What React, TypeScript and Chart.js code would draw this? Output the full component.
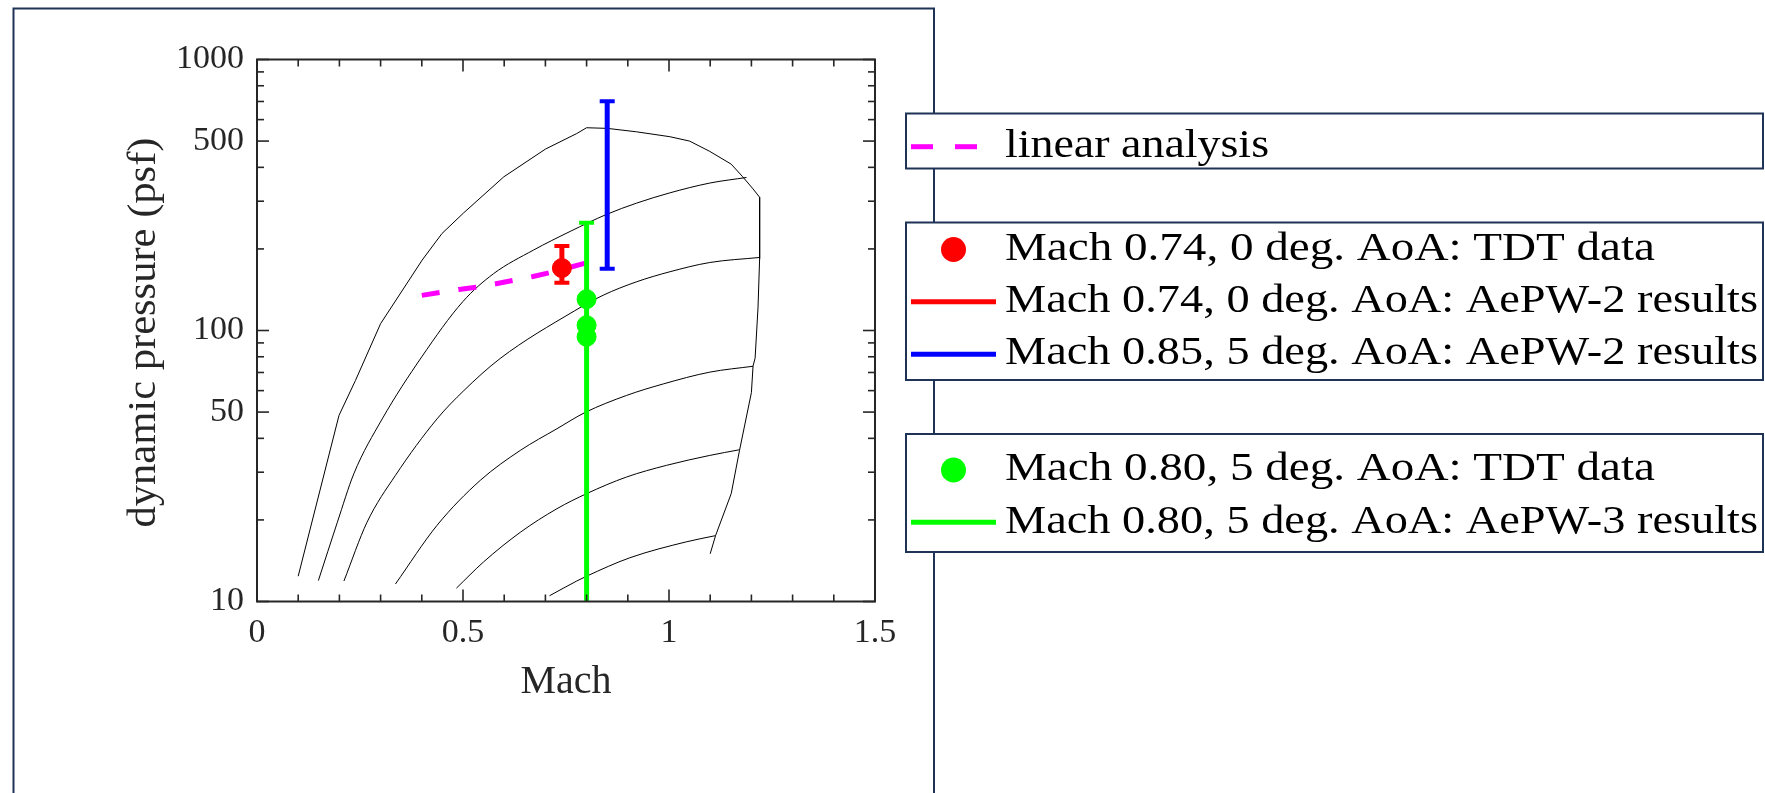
import React, { useEffect, useRef } from "react";
import { Chart, registerables } from "chart.js";

Chart.register(...registerables);

// ---- Data ----
// TDT operating envelope boundary
const envelopeMach = [0.10, 0.199, 0.239, 0.300, 0.401, 0.449, 0.502, 0.599, 0.700, 0.776, 0.800, 0.850, 0.921, 1.002, 1.050, 1.099, 1.151, 1.179, 1.204, 1.220, 1.220, 1.216, 1.209, 1.204, 1.200, 1.171, 1.151, 1.113, 1.100];
const envelopeQ = [12.4, 48.6, 65.4, 106, 182, 228, 272, 369, 467, 533, 560, 557, 541, 519, 500, 458, 411, 369, 333, 310, 184, 121, 79, 74, 59, 36, 25, 17.5, 15.0];

// Interior constant-condition curves
const curveAMach = [0.149, 0.195, 0.235, 0.304, 0.400, 0.500, 0.574, 0.671, 0.760, 0.848, 0.921, 1.002, 1.099, 1.188];
const curveAQ = [11.95, 19.6, 29.6, 47.2, 80, 128, 162, 198, 232, 268, 295, 322, 350, 367];
const curveBMach = [0.211, 0.267, 0.336, 0.437, 0.502, 0.590, 0.770, 0.840, 0.921, 1.002, 1.099, 1.220];
const curveBQ = [11.9, 19.6, 29.2, 47.2, 60.0, 78.8, 118, 134.9, 151.2, 164.7, 178.2, 186];
const curveCMach = [0.336, 0.437, 0.542, 0.639, 0.728, 0.796, 0.897, 0.986, 1.099, 1.204];
const curveCQ = [11.6, 19.1, 28.0, 36.1, 43.4, 49.8, 57.6, 63.5, 70.2, 73.8];
const curveDMach = [0.484, 0.550, 0.639, 0.728, 0.800, 0.897, 0.994, 1.099, 1.171];
const curveDQ = [11.2, 14.0, 18.0, 22.0, 25.0, 28.8, 31.8, 34.6, 36.3];
const curveEMach = [0.710, 0.776, 0.800, 0.905, 1.042, 1.113];
const curveEQ = [10.5, 11.9, 12.4, 14.5, 16.6, 17.5];

// Linear analysis (magenta dashed)
const linearMach = [0.40, 0.49, 0.54, 0.58, 0.63, 0.67, 0.715, 0.76, 0.804];
const linearQ = [134.8, 141.7, 144.8, 148.7, 154, 158.2, 164.1, 171.2, 178.5];

// Mach 0.74, 0 deg AoA
const redTdtMach = [0.74];
const redTdtQ = [170];
const redRangeMach = 0.74;
const redRangeQ = [150, 205];

// Mach 0.85, 5 deg AoA (AePW-2)
const blueRangeMach = 0.85;
const blueRangeQ = [169, 702];

// Mach 0.80, 5 deg AoA
const greenTdtMach = [0.80, 0.80, 0.80];
const greenTdtQ = [130.5, 104.6, 94.8];
const greenRangeMach = 0.80;
const greenRangeQ = [5, 250];

// Axes ticks
const xTickLabels = [0, 0.5, 1, 1.5];
const xMinorTicks = [0.1, 0.2, 0.3, 0.4, 0.6, 0.7, 0.8, 0.9, 1.1, 1.2, 1.3, 1.4];
const yTickLabels = [10, 50, 100, 500, 1000];
const yMinorTicks = [20, 30, 40, 60, 70, 80, 90, 200, 300, 400, 600, 700, 800, 900];

const xTitle = "Mach";
const yTitle = "dynamic pressure (psf)";
const legendLinear = "linear analysis";
const legendRedTdt = "Mach 0.74, 0 deg. AoA: TDT data";
const legendRedAepw = "Mach 0.74, 0 deg. AoA: AePW-2 results";
const legendBlueAepw = "Mach 0.85, 5 deg. AoA: AePW-2 results";
const legendGreenTdt = "Mach 0.80, 5 deg. AoA: TDT data";
const legendGreenAepw = "Mach 0.80, 5 deg. AoA: AePW-3 results";

// ---- Styles ----
const FONT = '"Liberation Serif", "Times New Roman", serif';
const NAVY = "#1f3357";
const AXIS = "#262626";
const RED = "#ff0000";
const BLUE = "#0000ff";
const GREEN = "#00ff00";
const MAGENTA = "#ff00ff";

const pts = (xs: number[], ys: number[]) => xs.map((x, i) => ({ x, y: ys[i] }));

function drawFitText(
  ctx: CanvasRenderingContext2D,
  text: string,
  x: number,
  y: number,
  size: number,
  targetWidth: number,
  align: CanvasTextAlign = "left",
  color = "#000"
) {
  ctx.save();
  ctx.font = `${size}px ${FONT}`;
  const w = ctx.measureText(text).width;
  const sx = targetWidth > 0 ? targetWidth / w : 1;
  ctx.translate(x, y);
  ctx.scale(sx, 1);
  ctx.textAlign = align;
  ctx.textBaseline = "alphabetic";
  ctx.fillStyle = color;
  ctx.fillText(text, 0, 0);
  ctx.restore();
}

const decorPlugin = {
  id: "decor",
  beforeDraw(chart: any) {
    const ctx: CanvasRenderingContext2D = chart.ctx;
    ctx.save();
    ctx.fillStyle = "#ffffff";
    ctx.fillRect(0, 0, chart.width, chart.height);
    ctx.strokeStyle = NAVY;
    ctx.lineWidth = 2;
    ctx.strokeRect(13.5, 8.5, 920.5, 900);
    ctx.restore();
  },
  afterDraw(chart: any) {
    const ctx: CanvasRenderingContext2D = chart.ctx;
    const { left, right, top, bottom } = chart.chartArea;
    const xs = chart.scales.x;
    const ys = chart.scales.y;
    ctx.save();
    // axes box
    ctx.strokeStyle = AXIS;
    ctx.lineWidth = 2;
    ctx.strokeRect(left, top, right - left, bottom - top);
    // inward ticks
    ctx.lineWidth = 1.6;
    const tick = (x1: number, y1: number, x2: number, y2: number) => {
      ctx.beginPath();
      ctx.moveTo(x1, y1);
      ctx.lineTo(x2, y2);
      ctx.stroke();
    };
    xTickLabels.forEach((v) => {
      const p = xs.getPixelForValue(v);
      tick(p, bottom, p, bottom - 12);
      tick(p, top, p, top + 12);
    });
    xMinorTicks.forEach((v) => {
      const p = xs.getPixelForValue(v);
      tick(p, bottom, p, bottom - 7);
      tick(p, top, p, top + 7);
    });
    yTickLabels.forEach((v) => {
      const p = ys.getPixelForValue(v);
      tick(left, p, left + 12, p);
      tick(right, p, right - 12, p);
    });
    yMinorTicks.forEach((v) => {
      const p = ys.getPixelForValue(v);
      tick(left, p, left + 7, p);
      tick(right, p, right - 7, p);
    });

    // axis titles
    drawFitText(ctx, xTitle, (left + right) / 2, 693, 40, 91, "center", AXIS);
    ctx.save();
    ctx.translate(155, (top + bottom) / 2 + 2);
    ctx.rotate(-Math.PI / 2);
    drawFitText(ctx, yTitle, 0, 0, 40, 390, "center", AXIS);
    ctx.restore();

    // legend boxes
    const boxX = 906;
    const boxW = 857;
    const box = (y: number, h: number) => {
      ctx.fillStyle = "#ffffff";
      ctx.fillRect(boxX, y, boxW, h);
      ctx.strokeStyle = NAVY;
      ctx.lineWidth = 2;
      ctx.strokeRect(boxX, y, boxW, h);
    };
    const sampleLine = (y: number, color: string, dash: number[]) => {
      ctx.save();
      ctx.strokeStyle = color;
      ctx.lineWidth = 5;
      ctx.setLineDash(dash);
      ctx.beginPath();
      ctx.moveTo(911, y);
      ctx.lineTo(996, y);
      ctx.stroke();
      ctx.restore();
    };
    const sampleDot = (y: number, color: string) => {
      ctx.save();
      ctx.fillStyle = color;
      ctx.beginPath();
      ctx.arc(953.5, y, 12.5, 0, Math.PI * 2);
      ctx.fill();
      ctx.restore();
    };
    const textX = 1005;

    box(113.5, 55);
    sampleLine(146.7, MAGENTA, [22, 22]);
    drawFitText(ctx, legendLinear, textX, 156.7, 40, 264);

    box(222.5, 157.5);
    sampleDot(249.5, RED);
    drawFitText(ctx, legendRedTdt, textX, 260, 40, 650);
    sampleLine(301.7, RED, []);
    drawFitText(ctx, legendRedAepw, textX, 311.7, 40, 753);
    sampleLine(354.3, BLUE, []);
    drawFitText(ctx, legendBlueAepw, textX, 364.3, 40, 753);

    box(434, 118);
    sampleDot(470, GREEN);
    drawFitText(ctx, legendGreenTdt, textX, 480, 40, 650);
    sampleLine(522.3, GREEN, []);
    drawFitText(ctx, legendGreenAepw, textX, 533, 40, 753);

    ctx.restore();
  },
};

export default function App() {
  const canvasRef = useRef<HTMLCanvasElement | null>(null);

  useEffect(() => {
    const canvas = canvasRef.current;
    if (!canvas) return;

    const blackCurve = (xsArr: number[], ysArr: number[], smooth: boolean) => ({
      data: pts(xsArr, ysArr),
      showLine: true,
      borderColor: "#000000",
      borderWidth: 1,
      pointRadius: 0,
      fill: false,
      cubicInterpolationMode: smooth ? "monotone" : "default",
      tension: 0,
      order: 10,
    });

    const chart = new Chart(canvas, {
      type: "scatter",
      data: {
        datasets: [
          blackCurve(envelopeMach, envelopeQ, false),
          blackCurve(curveAMach, curveAQ, true),
          blackCurve(curveBMach, curveBQ, true),
          blackCurve(curveCMach, curveCQ, true),
          blackCurve(curveDMach, curveDQ, true),
          blackCurve(curveEMach, curveEQ, true),
          {
            label: legendLinear,
            data: pts(linearMach, linearQ),
            showLine: true,
            borderColor: MAGENTA,
            borderWidth: 5,
            borderDash: [18, 19],
            pointRadius: 0,
            fill: false,
            order: 5,
          },
          {
            label: legendGreenAepw,
            data: pts([greenRangeMach, greenRangeMach], greenRangeQ),
            showLine: true,
            borderColor: GREEN,
            borderWidth: 5,
            pointStyle: "line",
            pointRadius: 7.5,
            pointBorderWidth: 4,
            pointBorderColor: GREEN,
            clip: 0,
            order: 4,
          },
          {
            label: legendBlueAepw,
            data: pts([blueRangeMach, blueRangeMach], blueRangeQ),
            showLine: true,
            borderColor: BLUE,
            borderWidth: 5,
            pointStyle: "line",
            pointRadius: 7.5,
            pointBorderWidth: 4,
            pointBorderColor: BLUE,
            order: 4,
          },
          {
            label: legendGreenTdt,
            data: pts(greenTdtMach, greenTdtQ),
            showLine: false,
            pointStyle: "circle",
            pointRadius: 9.5,
            pointBackgroundColor: GREEN,
            pointBorderColor: GREEN,
            pointBorderWidth: 1,
            order: 3,
          },
          {
            label: legendRedAepw,
            data: pts([redRangeMach, redRangeMach], redRangeQ),
            showLine: true,
            borderColor: RED,
            borderWidth: 5,
            pointStyle: "line",
            pointRadius: 7.5,
            pointBorderWidth: 4,
            pointBorderColor: RED,
            order: 2,
          },
          {
            label: legendRedTdt,
            data: pts(redTdtMach, redTdtQ),
            showLine: false,
            pointStyle: "circle",
            pointRadius: 9.5,
            pointBackgroundColor: RED,
            pointBorderColor: RED,
            pointBorderWidth: 1,
            order: 1,
          },
        ],
      },
      options: {
        responsive: false,
        maintainAspectRatio: false,
        devicePixelRatio: 1,
        animation: false,
        events: [],
        layout: { padding: { left: 157, right: 890, top: 59.5, bottom: 91.5 } },
        plugins: {
          legend: { display: false },
          tooltip: { enabled: false },
          title: { display: false },
        },
        scales: {
          x: {
            type: "linear",
            min: 0,
            max: 1.5,
            grid: { display: false, drawTicks: false },
            border: { display: false },
            afterBuildTicks: (s: any) => {
              s.ticks = xTickLabels.map((v) => ({ value: v }));
            },
            afterFit: (s: any) => {
              s.height = 100;
            },
            ticks: {
              autoSkip: false,
              maxRotation: 0,
              padding: 11,
              color: AXIS,
              font: { family: FONT, size: 34 },
              callback: (v: any) => String(v),
            },
          },
          y: {
            type: "logarithmic",
            min: 10,
            max: 1000,
            grid: { display: false, drawTicks: false },
            border: { display: false },
            afterBuildTicks: (s: any) => {
              s.ticks = yTickLabels.map((v) => ({ value: v }));
            },
            afterFit: (s: any) => {
              s.width = 100;
            },
            ticks: {
              autoSkip: false,
              padding: 13,
              color: AXIS,
              font: { family: FONT, size: 34 },
              callback: (v: any) => String(v),
            },
          },
        },
      },
      plugins: [decorPlugin],
    } as any);

    return () => {
      chart.destroy();
    };
  }, []);

  return (
    <canvas
      ref={canvasRef}
      width={1765}
      height={793}
      style={{ position: "fixed", left: 0, top: 0, width: 1765, height: 793, display: "block" }}
    />
  );
}
